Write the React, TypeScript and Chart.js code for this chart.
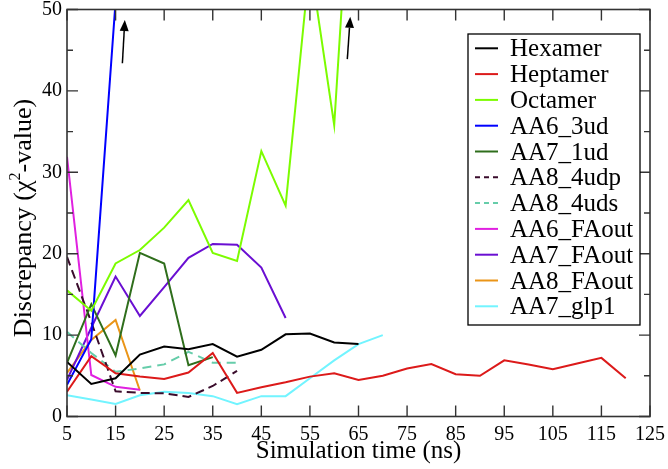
import React, { useEffect, useRef } from 'react';
import { Chart, registerables } from 'chart.js';

Chart.register(...registerables);

// ---- data ----
const times = [5, 10, 15, 20, 25, 30, 35, 40, 45, 50, 55, 60, 65, 70, 75, 80, 85, 90, 95, 100, 105, 110, 115, 120];

const hexamer = [6.7, 4.0, 4.7, 7.6, 8.6, 8.25, 8.9, 7.35, 8.2, 10.1, 10.2, 9.1, 8.9];
const heptamer = [3.05, 7.4, 5.3, 4.9, 4.6, 5.4, 7.8, 2.9, 3.6, 4.2, 4.9, 5.3, 4.5, 5.0, 5.9, 6.45, 5.2, 5.0, 6.9, 6.4, 5.8, 6.5, 7.2, 4.7];
const octamer = [15.5, 13.0, 18.8, 20.45, 23.2, 26.6, 20.1, 19.1, 32.6, 25.9, 56, 35.8, 83];
const aa6_3ud = [3.9, 9.5, 51];
const aa7_1ud = [6.6, 13.8, 7.5, 20.1, 18.8, 6.3, 7.3];
const aa8_4udp = [19.6, 11.6, 3.1, 2.9, 2.85, 2.4, 3.75, 5.6];
const aa8_4uds = [10.4, 7.8, 5.5, 5.9, 6.4, 7.95, 6.6, 6.6];
const aa6_faout = [31.9, 5.1, 3.65, 3.3];
const aa7_faout = [4.5, 10.9, 17.2, 12.35, 15.9, 19.5, 21.2, 21.1, 18.3, 12.1];
const aa8_faout = [5.35, 9.4, 11.85, 3.2];
const aa7_glp1 = [2.6, 2.1, 1.55, 2.6, 3.05, 2.9, 2.5, 1.5, 2.5, 2.5, 4.7, 6.9, 8.9, 10.0];

const seriesNames = ['Hexamer', 'Heptamer', 'Octamer', 'AA6_3ud', 'AA7_1ud', 'AA8_4udp', 'AA8_4uds', 'AA6_FAout', 'AA7_FAout', 'AA8_FAout', 'AA7_glp1'];
const seriesValues = [hexamer, heptamer, octamer, aa6_3ud, aa7_1ud, aa8_4udp, aa8_4uds, aa6_faout, aa7_faout, aa8_faout, aa7_glp1];
const seriesColors = ['#000000', '#dc1a1a', '#7cfc00', '#0000ff', '#2f6e1c', '#3a0c2c', '#66cdaa', '#e020e0', '#6a0fd2', '#ea9518', '#72f4ff'];
const seriesDash: number[][] = [[], [], [], [], [], [9, 5], [9, 6], [], [], [], []];

const xTicks = [5, 15, 25, 35, 45, 55, 65, 75, 85, 95, 105, 115, 125];
const yTicks = [0, 10, 20, 30, 40, 50];
const yMinorTicks = [5, 15, 25, 35, 45];

// arrows (data coordinates): [x, y]
const arrowFrom = [[16.4, 43.4], [62.7, 43.9]];
const arrowTo = [[16.9, 48.7], [63.3, 49.1]];

const FONT = '"Liberation Serif", "Times New Roman", serif';

const decoPlugin = {
  id: 'deco',
  afterDatasetsDraw(chart: any) {
    const { ctx, chartArea: a, scales } = chart;
    const xs = scales.x;
    const ys = scales.y;
    ctx.save();
    // arrows
    ctx.strokeStyle = '#000';
    ctx.fillStyle = '#000';
    ctx.lineWidth = 1.5;
    for (let i = 0; i < arrowFrom.length; i++) {
      const x0 = xs.getPixelForValue(arrowFrom[i][0]);
      const y0 = ys.getPixelForValue(arrowFrom[i][1]);
      const x1 = xs.getPixelForValue(arrowTo[i][0]);
      const y1 = ys.getPixelForValue(arrowTo[i][1]);
      const ang = Math.atan2(y1 - y0, x1 - x0);
      const hl = 11, hw = 4.5;
      const bx = x1 - hl * Math.cos(ang);
      const by = y1 - hl * Math.sin(ang);
      ctx.beginPath();
      ctx.moveTo(x0, y0);
      ctx.lineTo(bx, by);
      ctx.stroke();
      ctx.beginPath();
      ctx.moveTo(x1, y1);
      ctx.lineTo(bx + hw * Math.sin(ang), by - hw * Math.cos(ang));
      ctx.lineTo(bx - hw * Math.sin(ang), by + hw * Math.cos(ang));
      ctx.closePath();
      ctx.fill();
    }
    // frame
    ctx.strokeStyle = '#333';
    ctx.lineWidth = 1.6;
    ctx.strokeRect(a.left, a.top, a.right - a.left, a.bottom - a.top);
    // ticks
    ctx.lineWidth = 1.4;
    const major = 11, minor = 6;
    ctx.beginPath();
    for (const v of xTicks) {
      const px = xs.getPixelForValue(v);
      ctx.moveTo(px, a.bottom); ctx.lineTo(px, a.bottom - major);
      ctx.moveTo(px, a.top); ctx.lineTo(px, a.top + major);
    }
    for (const v of yTicks) {
      const py = ys.getPixelForValue(v);
      ctx.moveTo(a.left, py); ctx.lineTo(a.left + major, py);
      ctx.moveTo(a.right, py); ctx.lineTo(a.right - major, py);
    }
    for (const v of yMinorTicks) {
      const py = ys.getPixelForValue(v);
      ctx.moveTo(a.left, py); ctx.lineTo(a.left + minor, py);
      ctx.moveTo(a.right, py); ctx.lineTo(a.right - minor, py);
    }
    ctx.stroke();

    // legend
    const lx = 468, ly = 34, lw = 172, lh = 291;
    ctx.fillStyle = '#fff';
    ctx.fillRect(lx, ly, lw, lh);
    ctx.strokeStyle = '#000';
    ctx.lineWidth = 1.3;
    ctx.strokeRect(lx, ly, lw, lh);
    ctx.font = `25px ${FONT}`;
    ctx.textBaseline = 'alphabetic';
    ctx.textAlign = 'left';
    for (let i = 0; i < seriesNames.length; i++) {
      const cy = 48.3 + i * 25.8;
      ctx.strokeStyle = seriesColors[i];
      ctx.lineWidth = 2;
      ctx.setLineDash(seriesDash[i].length ? [5, 4] : []);
      ctx.beginPath();
      ctx.moveTo(475, cy);
      ctx.lineTo(498, cy);
      ctx.stroke();
      ctx.setLineDash([]);
      ctx.fillStyle = '#000';
      ctx.fillText(seriesNames[i], 510, cy + 8);
    }

    // y title with superscript
    ctx.save();
    ctx.translate(22, 218);
    ctx.rotate(-Math.PI / 2);
    const f = `26px ${FONT}`;
    const fs = `16px ${FONT}`;
    const p1 = 'Discrepancy (';
    const p2 = 'χ';
    const p3 = '2';
    const p4 = '-value)';
    ctx.font = f;
    const w1 = ctx.measureText(p1).width;
    const w2 = ctx.measureText(p2).width;
    const w4 = ctx.measureText(p4).width;
    ctx.font = fs;
    const w3 = ctx.measureText(p3).width;
    const total = w1 + w2 + w3 + w4;
    let x = -total / 2;
    const base = 9;
    ctx.fillStyle = '#000';
    ctx.font = f;
    ctx.fillText(p1, x, base); x += w1;
    ctx.fillText(p2, x, base); x += w2;
    ctx.font = fs;
    ctx.fillText(p3, x, base - 11); x += w3;
    ctx.font = f;
    ctx.fillText(p4, x, base);
    ctx.restore();

    ctx.restore();
  },
};

export default function App() {
  const ref = useRef<HTMLCanvasElement | null>(null);
  useEffect(() => {
    document.body.style.margin = '0';
    if (!ref.current) return;
    const datasets = seriesNames.map((name, i) => ({
      label: name,
      data: seriesValues[i].map((v, j) => ({ x: times[j], y: v })),
      borderColor: seriesColors[i],
      backgroundColor: seriesColors[i],
      borderWidth: 2,
      borderDash: seriesDash[i],
      pointRadius: 0,
      tension: 0,
      fill: false,
    }));
    const chart = new Chart(ref.current, {
      type: 'line',
      data: { datasets },
      options: {
        animation: false,
        responsive: true,
        maintainAspectRatio: false,
        layout: { padding: { top: 9.5, right: 18, left: 0, bottom: 0 } },
        plugins: { legend: { display: false }, tooltip: { enabled: false } },
        scales: {
          x: {
            type: 'linear',
            min: 5,
            max: 125,
            afterBuildTicks: (s: any) => { s.ticks = xTicks.map((v) => ({ value: v })); },
            afterFit: (s: any) => { s.height = 52.5; s.paddingLeft = 0; s.paddingRight = 0; },
            grid: { display: false, drawTicks: false },
            border: { display: false },
            ticks: { color: '#000', font: { family: FONT, size: 20 }, padding: 6, maxRotation: 0, autoSkip: false },
            title: { display: true, text: 'Simulation time (ns)', color: '#000', font: { family: FONT, size: 25 }, padding: { top: 0, bottom: 3 } },
          },
          y: {
            type: 'linear',
            min: 0,
            max: 50,
            afterBuildTicks: (s: any) => { s.ticks = yTicks.map((v) => ({ value: v })); },
            afterFit: (s: any) => { s.width = 67; s.paddingTop = 0; s.paddingBottom = 0; },
            grid: { display: false, drawTicks: false },
            border: { display: false },
            ticks: { color: '#000', font: { family: FONT, size: 20 }, padding: 5 },
          },
        },
      },
      plugins: [decoPlugin],
    } as any);
    return () => chart.destroy();
  }, []);
  return (
    <div style={{ position: 'fixed', left: 0, top: 0, width: 668, height: 469 }}>
      <canvas ref={ref} />
    </div>
  );
}
